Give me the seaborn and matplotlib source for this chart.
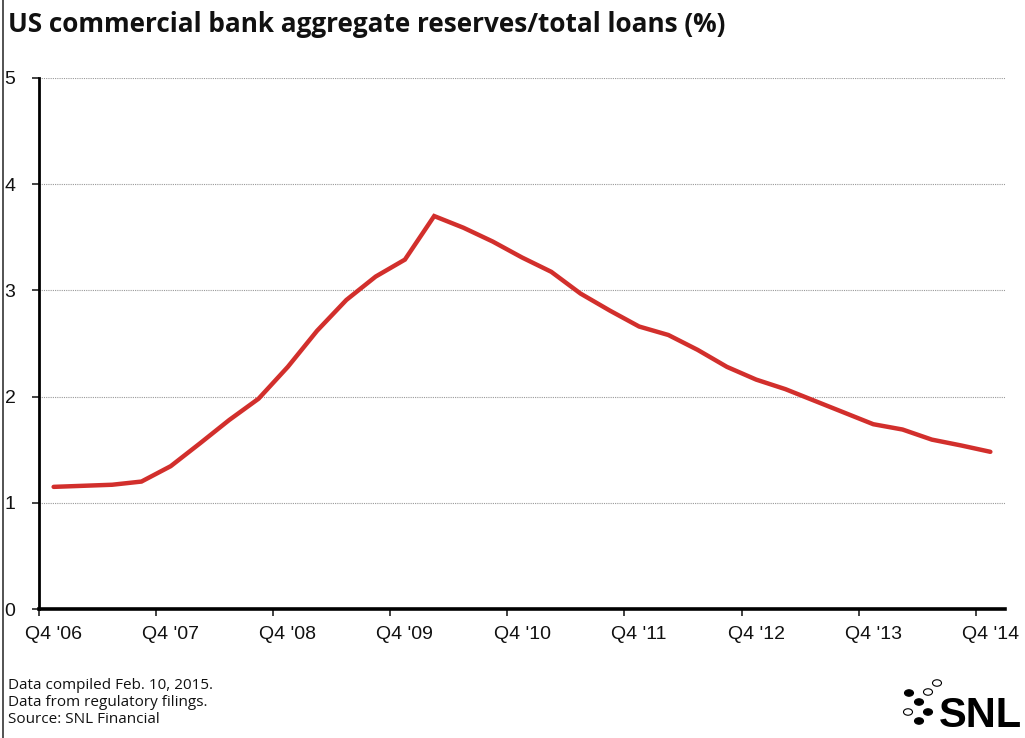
import matplotlib
matplotlib.use("Agg")
import matplotlib.pyplot as plt
import seaborn as sns
import pandas as pd
import numpy as np
from matplotlib.lines import Line2D
from matplotlib.patches import Circle

# ---- data ----
quarters = [f"Q{q} '{y:02d}" for y, q in
            [(6, 4)] + [(y, q) for y in range(7, 15) for q in (1, 2, 3, 4)]]
ratio = [1.15, 1.16, 1.17, 1.20, 1.345, 1.56, 1.78, 1.98, 2.28, 2.62, 2.91,
         3.13, 3.29, 3.70, 3.59, 3.46, 3.31, 3.175, 2.97, 2.81, 2.66, 2.58,
         2.44, 2.28, 2.16, 2.07, 1.96, 1.85, 1.74, 1.69, 1.595, 1.54, 1.48]
xlabels = ["Q4 '06", "Q4 '07", "Q4 '08", "Q4 '09", "Q4 '10",
           "Q4 '11", "Q4 '12", "Q4 '13", "Q4 '14"]
yticks = [0, 1, 2, 3, 4, 5]
title = "US commercial bank aggregate reserves/total loans (%)"
notes = ["Data compiled Feb. 10, 2015.", "Data from regulatory filings.",
         "Source: SNL Financial"]

df = pd.DataFrame({"pos": np.arange(len(ratio)), "quarter": quarters, "ratio": ratio})

sns.set_theme(style="white")
plt.rcParams['font.family'] = ['Liberation Sans', 'DejaVu Sans']

W, H = 1025, 738
fig = plt.figure(figsize=(W / 100, H / 100), dpi=100)
ax = fig.add_axes([39 / W, 1 - 609 / H, (1005 - 39) / W, (609 - 78) / H])

sns.lineplot(data=df, x="pos", y="ratio", ax=ax, color="#D22F2C", linewidth=3.2,
             solid_joinstyle="miter")

ax.set_xlim(-0.5, len(ratio) - 0.5)
ax.set_ylim(0, 5)
ax.set_xlabel("")
ax.set_ylabel("")

# major ticks at category boundaries, labels at category centers
ax.set_xticks(np.arange(-0.5, len(ratio), 4))
ax.set_xticklabels([])
ax.set_xticks(np.arange(0, len(ratio), 4), minor=True)
ax.set_xticklabels(xlabels, minor=True)
ax.tick_params(axis="x", which="major", bottom=True, length=5, width=1.3,
               color="#333333", direction="out")
ax.tick_params(axis="x", which="minor", bottom=True, length=0, pad=12,
               labelsize=14, labelcolor="#111111")
ax.set_yticks(yticks)
ax.set_yticklabels([str(v) for v in yticks])
ax.tick_params(axis="y", left=True, length=5, width=1.3, color="#333333",
               direction="out", labelsize=14, labelcolor="#111111", pad=12)

ax.grid(axis="y", color="#999999", linestyle=(0, (1, 1)), linewidth=0.8)
ax.grid(axis="x", visible=False)
for s in ["top", "right"]:
    ax.spines[s].set_visible(False)
ax.spines["left"].set_color("black")
ax.spines["left"].set_linewidth(2.0)
ax.spines["bottom"].set_color("black")
ax.spines["bottom"].set_linewidth(2.6)
ax.set_axisbelow(True)

# left border line
fig.add_artist(Line2D([2.5 / W, 2.5 / W], [0, 1], transform=fig.transFigure,
                      color="#444444", linewidth=1.3))

fig.text(8 / W, 1 - 25 / H, title, fontsize=18.8, fontweight="bold",
         family=["Open Sans", "DejaVu Sans"], va="center", ha="left", color="#111111")

for i, line in enumerate(notes):
    fig.text(8 / W, 1 - (689 + 17 * i) / H, line, fontsize=11,
             family=["Open Sans", "DejaVu Sans"], va="baseline", ha="left",
             color="#111111")

# SNL logo
fig.text(1022 / W, 1 - 727 / H, "SNL", fontsize=30, fontweight="bold",
         va="baseline", ha="right", color="black")
dots = [(937, 683, False), (909, 693, True), (928, 692, False), (919, 702, True),
        (908, 712, False), (928, 712, True), (919, 721, True)]
for x, y, filled in dots:
    fig.add_artist(Circle((x / W, 1 - y / H), radius=4.5 / W, transform=fig.transFigure,
                          facecolor="black" if filled else "white",
                          edgecolor="black", linewidth=0.8))

fig.savefig("out.png", dpi=100, facecolor="white")
